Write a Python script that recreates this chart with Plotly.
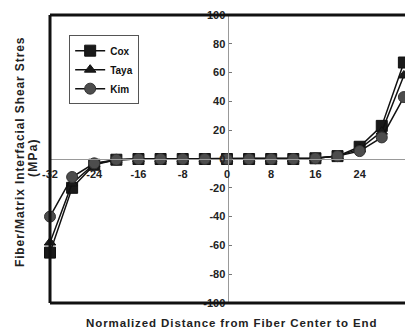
import plotly.graph_objects as go

# Normalized distance along the fiber (center = 0, ends = +/-32)
distance = [-32, -28, -24, -20, -16, -12, -8, -4, 0, 4, 8, 12, 16, 20, 24, 28, 32]

# Interfacial shear stress (MPa) for each model
cox = [-65, -20, -4, -0.5, 0, 0, 0, 0, 0, 0, 0, 0, 0.5, 2, 8.5, 23, 67]
taya = [-58, -17, -3.5, -0.5, 0, 0, 0, 0, 0, 0, 0, 0, 0.5, 2, 7, 19, 58]
kim = [-40, -12.5, -3, -0.5, 0, 0, 0, 0, 0, 0, 0, 0, 0.5, 2, 5.5, 15, 43]

x_ticks = [-32, -24, -16, -8, 0, 8, 16, 24, 32]
y_ticks = [-100, -80, -60, -40, -20, 0, 20, 40, 60, 80, 100]

FONT = "Liberation Sans"
BOLD = dict(family=FONT, size=11, color="#222222", weight="bold")


def spaced(text, px):
    return f'<span style="letter-spacing:{px}px">{text}</span>'


fig = go.Figure()
fig.add_trace(go.Scatter(
    x=distance, y=cox, name="Cox", mode="lines+markers",
    line=dict(color="#111111", width=1.5),
    marker=dict(symbol="square", size=11, color="#1a1a1a",
                line=dict(color="#111111", width=1)),
    cliponaxis=False,
))
fig.add_trace(go.Scatter(
    x=distance, y=taya, name="Taya", mode="lines+markers",
    line=dict(color="#111111", width=1.5),
    marker=dict(symbol="triangle-up", size=10, color="#1a1a1a",
                line=dict(color="#111111", width=1)),
    cliponaxis=False,
))
fig.add_trace(go.Scatter(
    x=distance, y=kim, name="Kim", mode="lines+markers",
    line=dict(color="#111111", width=1.5),
    marker=dict(symbol="circle", size=11, color="#4d4d4d",
                line=dict(color="#333333", width=1)),
    cliponaxis=False,
))

fig.update_layout(
    width=405, height=331,
    margin=dict(l=50, r=0, t=15, b=28),
    paper_bgcolor="white", plot_bgcolor="white",
    font=BOLD,
    showlegend=True,
    legend=dict(
        x=0.054, y=0.93, xanchor="left", yanchor="top",
        bgcolor="white", bordercolor="#555555", borderwidth=1,
        font=dict(family=FONT, size=10, color="#111111", weight="bold"),
        itemwidth=30, tracegroupgap=0,
    ),
    xaxis=dict(
        range=[-32, 32.2], tickmode="array", tickvals=x_ticks,
        ticktext=[str(v) for v in x_ticks],
        anchor="free", position=0.5,
        showline=True, linecolor="#999999", linewidth=1,
        ticks="", showgrid=False, zeroline=False,
        ticklabelstandoff=5,
        tickfont=BOLD,
    ),
    yaxis=dict(
        range=[-100, 100], tickmode="array", tickvals=y_ticks,
        ticktext=[str(v) for v in y_ticks],
        anchor="free", position=0.5,
        showline=True, linecolor="#999999", linewidth=1,
        ticks="inside", ticklen=3, tickcolor="#777777",
        showgrid=False, zeroline=False,
        tickfont=BOLD,
    ),
    annotations=[
        dict(text=spaced("Normalized Distance from Fiber Center to End", 0.9),
             xref="paper", yref="paper", x=0.51, y=-0.069,
             xanchor="center", yanchor="middle", showarrow=False,
             font=dict(family=FONT, size=11.5, color="#222222", weight="bold")),
        dict(text=spaced("Fiber/Matrix Interfacial Shear Stres", 0.9),
             xref="paper", yref="paper", x=-0.0845, y=0.524,
             xanchor="center", yanchor="middle", textangle=-90, showarrow=False,
             font=dict(family=FONT, size=12, color="#222222", weight="bold")),
        dict(text=spaced("(MPa)", 1.2),
             xref="paper", yref="paper", x=-0.048, y=0.507,
             xanchor="center", yanchor="middle", textangle=-90, showarrow=False,
             font=dict(family=FONT, size=12, color="#222222", weight="bold")),
    ],
    shapes=[
        dict(type="line", xref="paper", yref="paper", x0=0, x1=1.05, y0=1, y1=1,
             line=dict(color="#111111", width=3), layer="above"),
        dict(type="line", xref="paper", yref="paper", x0=0, x1=1.05, y0=0, y1=0,
             line=dict(color="#111111", width=3), layer="above"),
        dict(type="line", xref="paper", yref="paper", x0=0, x1=0, y0=0, y1=1,
             line=dict(color="#111111", width=3), layer="above"),
    ],
)

fig.write_html("out.html")
